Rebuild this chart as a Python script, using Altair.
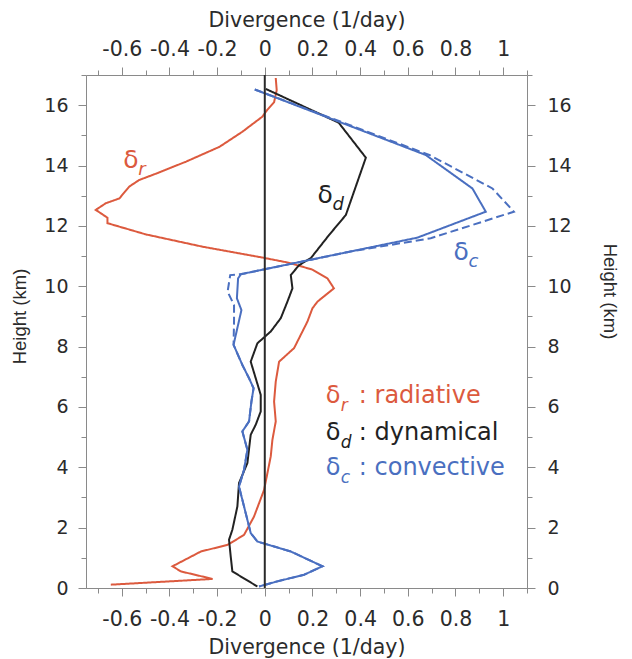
import altair as alt
import pandas as pd

# ---------------- data ----------------
red_y = [16.9, 16.5, 16.1, 15.85, 15.62, 15.12, 14.62, 14.13, 13.75, 13.52, 13.3, 12.91, 12.75,
         12.53, 12.27, 12.09, 11.72, 11.31, 10.95, 10.78, 10.55, 10.26, 9.93, 9.49, 9.27, 8.83,
         8.39, 7.95, 7.5, 6.84, 6.18, 5.52, 4.91, 4.36, 3.25, 2.37, 1.76, 1.43, 1.21, 0.72,
         0.55, 0.3, 0.11]
red_x = [0.046, 0.05, 0.039, 0.011, -0.01, -0.094, -0.19, -0.33, -0.45, -0.527, -0.569, -0.61,
         -0.667, -0.709, -0.66, -0.66, -0.5, -0.261, -0.01, 0.1, 0.2, 0.263, 0.29, 0.221, 0.2,
         0.179, 0.151, 0.123, 0.06, 0.046, 0.039, 0.046, 0.032, 0.025, -0.003, -0.045, -0.087,
         -0.156, -0.268, -0.387, -0.352, -0.219, -0.646]

dyn_y = [16.54, 15.42, 14.26, 12.36, 11.7, 10.93, 10.7, 10.37, 9.93, 9.49, 8.94, 8.5, 8.11, 7.5,
         6.95, 6.4, 5.85, 5.41, 5.08, 4.14, 3.48, 2.7, 1.93, 1.6, 1.05, 0.55, 0.05]
dyn_x = [0.004, 0.31, 0.424, 0.34, 0.27, 0.193, 0.144, 0.109, 0.116, 0.095, 0.067, 0.025, -0.031,
         -0.059, -0.038, -0.017, -0.017, -0.038, -0.059, -0.073, -0.108, -0.115, -0.136, -0.15,
         -0.143, -0.136, -0.031]

conv_y = [16.52, 14.35, 13.24, 12.47, 11.61, 10.4, 10.26, 9.6, 9.21, 8.72, 8.06, 7.39, 6.95, 6.62,
          6.18, 5.52, 5.19, 4.58, 3.92, 3.36, 2.48, 1.82, 1.54, 1.21, 0.72, 0.44, 0.22, 0.05]
conv_x = [-0.042, 0.675, 0.871, 0.927, 0.64, -0.1, -0.112, -0.117, -0.098, -0.112, -0.131, -0.094,
          -0.066, -0.047, -0.056, -0.066, -0.094, -0.073, -0.087, -0.108, -0.08, -0.059, -0.031,
          0.109, 0.242, 0.165, 0.053, -0.024]

convd_y = [16.52, 14.35, 13.24, 12.47, 11.59, 11.15, 10.4, 10.37, 9.82, 9.38, 8.83, 8.06, 7.39,
           6.95, 6.62, 6.18, 5.52, 5.19, 4.58, 3.92, 3.36, 2.48, 1.82, 1.54, 1.21, 0.72, 0.44,
           0.22, 0.05]
convd_x = [-0.042, 0.69, 0.955, 1.045, 0.696, 0.36, -0.1, -0.145, -0.156, -0.129, -0.129, -0.131,
           -0.094, -0.066, -0.047, -0.056, -0.066, -0.094, -0.073, -0.087, -0.108, -0.08, -0.059,
           -0.031, 0.109, 0.242, 0.165, 0.053, -0.024]

x_major = [-0.6, -0.4, -0.2, 0, 0.2, 0.4, 0.6, 0.8, 1]
x_minor = [round(-0.7 + 0.1 * i, 1) for i in range(19)]
y_major = [0, 2, 4, 6, 8, 10, 12, 14, 16]
y_minor = list(range(0, 18))

# legend and in-plot labels: (x, y) of the delta glyph
leg_sub = ["r", "d", "c"]
leg_text = [": radiative", ": dynamical", ": convective"]
leg_x = [0.256, 0.256, 0.256]
leg_y = [6.13, 4.91, 3.75]
lab_x = [-0.594, 0.221, 0.792]
lab_y = [13.92, 12.75, 10.87]

RED, BLACK, BLUE = "#dc5a3e", "#222222", "#4a6fc0"
cols = [RED, BLACK, BLUE]

rows = []
for name, xs, ys, dash in [("r", red_x, red_y, "solid"), ("d", dyn_x, dyn_y, "solid"),
                           ("c", conv_x, conv_y, "solid"), ("cd", convd_x, convd_y, "dash")]:
    for i, (xv, yv) in enumerate(zip(xs, ys)):
        rows.append({"s": name, "x": xv, "y": yv, "i": i, "dash": dash})
df = pd.DataFrame(rows)

leg_df = pd.DataFrame({"x": leg_x, "y": leg_y, "sub": leg_sub, "txt": leg_text, "k": leg_sub})
lab_df = pd.DataFrame({"x": lab_x, "y": lab_y, "sub": leg_sub, "k": leg_sub})
zero_df = pd.DataFrame({"x": [0], "y": [0], "y2": [17]})

HFONT = "DejaVu Sans"       # horizontal text (reference is stretched horizontally)
VFONT = "Liberation Sans"   # rotated titles
GRAY = "#8a8a8a"
TXT = "#2b2b2b"

xscale = alt.Scale(domain=[-0.75, 1.1], nice=False, zero=False)
yscale = alt.Scale(domain=[0, 17], nice=False, zero=False)
cscale = alt.Scale(domain=["r", "d", "c", "cd"], range=[RED, BLACK, BLUE, BLUE])
kscale = alt.Scale(domain=["r", "d", "c"], range=cols)

common = dict(domainColor=GRAY, tickColor=GRAY, labelColor=TXT, titleColor=TXT, grid=False,
              labelFont=HFONT, titleFontWeight="normal",
              labelFlush=False, labelOverlap=False, tickWidth=1, domainWidth=1)
minor = dict(domainColor=GRAY, tickColor=GRAY, grid=False, labels=False, title=None,
             domain=False, tickSize=5, tickWidth=1)

lab_expr = "'' + datum.value"

ax_bottom = alt.Axis(orient="bottom", values=x_major, tickSize=8, labelPadding=13,
                     labelFontSize=20.5,
                     labelExpr=lab_expr, title="Divergence (1/day)", titleY=65,
                     titleFont=HFONT, titleFontSize=20.5,
                     titleBaseline="alphabetic", **common)
ax_top = alt.Axis(orient="top", values=x_major, tickSize=8, labelPadding=8,
                  labelFontSize=20.5,
                  labelExpr=lab_expr, title="Divergence (1/day)", titleY=-48.5,
                  titleFont=HFONT, titleFontSize=20.5,
                  titleBaseline="alphabetic", **common)
ax_left = alt.Axis(orient="left", values=y_major, tickSize=8, labelPadding=10,
                   labelFontSize=19,
                   title="Height (km)", titleX=-61, titleY=241, titleAngle=270,
                   titleFont=VFONT, titleFontSize=18.5,
                   titleBaseline="alphabetic", **common)
ax_right = alt.Axis(orient="right", values=y_major, tickSize=8, labelPadding=12,
                    labelFontSize=19,
                    title="Height (km)", titleX=76, titleY=216, titleAngle=90,
                    titleFont=VFONT, titleFontSize=18.5,
                    titleBaseline="alphabetic", **common)

lines = alt.Chart(df).mark_line(strokeWidth=2).encode(
    x=alt.X("x:Q", scale=xscale, axis=ax_bottom),
    y=alt.Y("y:Q", scale=yscale, axis=ax_left),
    color=alt.Color("s:N", scale=cscale, legend=None),
    strokeDash=alt.StrokeDash("dash:N", scale=alt.Scale(domain=["solid", "dash"],
                                                        range=[[1, 0], [8, 4]]), legend=None),
    order=alt.Order("i:Q"),
)

zero = alt.Chart(zero_df).mark_rule(color="#2a2a2a", strokeWidth=2).encode(
    x=alt.X("x:Q", scale=xscale, axis=ax_top),
    y=alt.Y("y:Q", scale=yscale, axis=ax_right),
    y2="y2:Q",
)

minor1 = alt.Chart(zero_df).mark_rule(opacity=0).encode(
    x=alt.X("x:Q", scale=xscale, axis=alt.Axis(orient="bottom", values=x_minor, **minor)),
    y=alt.Y("y:Q", scale=yscale, axis=alt.Axis(orient="left", values=y_minor, **minor)),
    y2="y2:Q",
)
minor2 = alt.Chart(zero_df).mark_rule(opacity=0).encode(
    x=alt.X("x:Q", scale=xscale, axis=alt.Axis(orient="top", values=x_minor, **minor)),
    y=alt.Y("y:Q", scale=yscale, axis=alt.Axis(orient="right", values=y_minor, **minor)),
    y2="y2:Q",
)

def enc(base):
    return base.encode(
        x=alt.X("x:Q", scale=xscale, axis=None),
        y=alt.Y("y:Q", scale=yscale, axis=None),
        color=alt.Color("k:N", scale=kscale, legend=None),
    )

leg_delta = enc(alt.Chart(leg_df).mark_text(text="δ", font=HFONT, fontSize=24, align="left",
                                            baseline="alphabetic"))
leg_subm = enc(alt.Chart(leg_df).mark_text(font=HFONT, fontSize=17, fontStyle="italic",
                                           align="left", baseline="alphabetic", dx=15, dy=8)
               ).encode(text="sub:N")
leg_rest = enc(alt.Chart(leg_df).mark_text(font=HFONT, fontSize=24, align="left",
                                           baseline="alphabetic", dx=33)).encode(text="txt:N")

lab_delta = enc(alt.Chart(lab_df).mark_text(text="δ", font=HFONT, fontSize=25, align="left",
                                            baseline="alphabetic"))
lab_subm = enc(alt.Chart(lab_df).mark_text(font=HFONT, fontSize=18, fontStyle="italic",
                                           align="left", baseline="alphabetic", dx=15, dy=7)
               ).encode(text="sub:N")

chart = alt.layer(
    lines, zero, minor1, minor2, leg_delta, leg_subm, leg_rest, lab_delta, lab_subm
).resolve_axis(x="independent", y="independent").properties(
    width=441, height=513,
    padding={"left": 78, "top": 67, "right": 97, "bottom": 71},
    autosize=alt.AutoSizeParams(type="none"),
    background="white",
).configure_view(stroke=None)

chart.save("out.html", embed_options={"renderer": "svg", "actions": False})
